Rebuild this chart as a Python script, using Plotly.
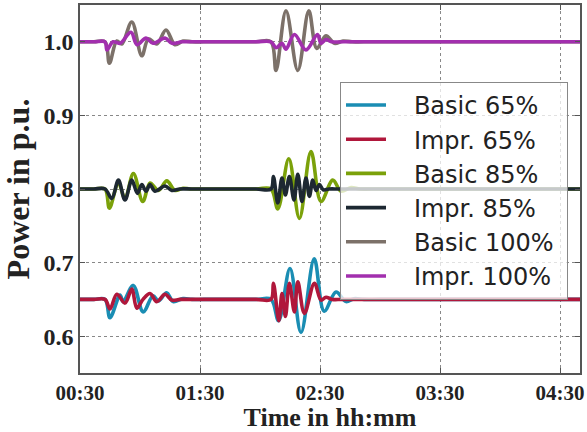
import plotly.graph_objects as go

# ---- data (time in minutes after 00:00, power in p.u.) ----
t_basic65 = [30, 37, 42.5, 45.0, 50.0, 51.6, 56.6, 61.6, 66.5, 69.2, 73.3, 76.6, 81.5, 86, 92,
             118, 125.5, 129.3, 135.0, 140.5, 147.1, 152.1, 158.0, 163.0, 167.0, 172.0, 180, 280]
v_basic65 = [0.65, 0.65, 0.65, 0.625, 0.656, 0.647, 0.669, 0.633, 0.655, 0.648, 0.659, 0.647, 0.651, 0.65, 0.65,
             0.65, 0.65, 0.621, 0.692, 0.605, 0.705, 0.634, 0.660, 0.647, 0.651, 0.65, 0.65, 0.65]

t_impr65 = [30, 37, 42.5, 45.0, 48.4, 52.5, 55.9, 58.4, 61.5, 65.0, 68.4, 72.5, 75.9, 80.0, 86,
            118, 125.5, 126.7, 129.4, 131.0, 132.7, 134.7, 137.2, 138.9, 142.2, 147.2, 150.5, 153.0,
            156.0, 162, 280]
v_impr65 = [0.65, 0.65, 0.65, 0.637, 0.657, 0.645, 0.664, 0.638, 0.650, 0.658, 0.647, 0.657, 0.649, 0.65, 0.65,
            0.65, 0.65, 0.672, 0.621, 0.658, 0.627, 0.672, 0.633, 0.674, 0.631, 0.672, 0.649, 0.653,
            0.65, 0.65, 0.65]

t_basic85 = [30, 37, 42.5, 44.7, 49.2, 52.5, 56.7, 61.4, 65.0, 69.2, 73.4, 77.5, 81.5, 85.0, 91,
             118, 125.5, 128.9, 134.4, 139.7, 145.5, 150.5, 156.4, 160.5, 165.5, 170.0, 176, 280]
v_basic85 = [0.8, 0.8, 0.8, 0.774, 0.808, 0.787, 0.821, 0.783, 0.808, 0.798, 0.811, 0.798, 0.801, 0.8, 0.8,
             0.8, 0.8, 0.773, 0.841, 0.760, 0.851, 0.783, 0.812, 0.797, 0.802, 0.8, 0.8, 0.8]

t_impr85 = [30, 37, 42.5, 45.9, 49.2, 52.5, 55.9, 58.7, 60.9, 63.0, 65.0, 67.5, 72.5, 75.9, 80.0, 86,
            118, 125.5, 126.7, 128.9, 131.0, 132.7, 134.7, 137.0, 138.9, 141.0, 143.0, 144.7, 146.4,
            148.0, 149.7, 151.6, 154.5, 160, 280]
v_impr85 = [0.8, 0.8, 0.8, 0.787, 0.812, 0.785, 0.812, 0.794, 0.806, 0.797, 0.806, 0.797, 0.804, 0.798, 0.8, 0.8,
            0.8, 0.8, 0.817, 0.781, 0.815, 0.792, 0.817, 0.785, 0.820, 0.783, 0.815, 0.790, 0.812,
            0.798, 0.806, 0.799, 0.8, 0.8, 0.8]

t_basic100 = [30, 37, 42.5, 44.7, 48.4, 50.9, 55.9, 60.9, 64.2, 68.4, 73.0, 77.5, 81.5, 86.0, 92,
              118, 125.5, 128.0, 133.0, 138.9, 144.4, 148.4, 153.0, 157.2, 161.5, 166.0, 172, 280]
v_basic100 = [1.0, 1.0, 1.0, 0.971, 1.001, 0.997, 1.027, 0.981, 1.004, 0.997, 1.016, 0.996, 1.001, 1.0, 1.0,
              1.0, 1.0, 0.961, 1.042, 0.961, 1.042, 0.991, 1.008, 0.998, 1.001, 1.0, 1.0, 1.0]

t_impr100 = [30, 37, 42.5, 43.5, 46.5, 50.0, 55.5, 58.5, 63.0, 66.5, 72.5, 76.0, 81.0, 87,
             118, 125.5, 128.0, 131.0, 133.0, 137.2, 143.0, 148.7, 150.5, 153.0, 156.0, 162, 280]
v_impr100 = [1.0, 1.0, 1.0, 0.989, 1.0, 0.998, 1.013, 0.996, 1.005, 0.998, 1.005, 0.998, 1.0, 1.0,
             1.0, 1.0, 0.992, 0.998, 0.990, 1.010, 0.989, 1.010, 0.998, 1.003, 1.0, 1.0, 1.0]

tick_vals = [30, 90, 150, 210, 270]
tick_text = ["00:30", "01:30", "02:30", "03:30", "04:30"]
y_tick_vals = [0.6, 0.7, 0.8, 0.9, 1.0]
y_tick_text = ["0.6", "0.7", "0.8", "0.9", "1.0"]

series = [
    ("Basic 65%", t_basic65, v_basic65, "#1a8db3"),
    ("Impr. 65%", t_impr65, v_impr65, "#b0173b"),
    ("Basic 85%", t_basic85, v_basic85, "#7ba10a"),
    ("Impr. 85%", t_impr85, v_impr85, "#1d2832"),
    ("Basic 100%", t_basic100, v_basic100, "#7c7169"),
    ("Impr. 100%", t_impr100, v_impr100, "#a22fae"),
]

fig = go.Figure()
for name, t, v, c in series:
    fig.add_trace(go.Scatter(x=t, y=v, name="\u00a0\u00a0\u00a0" + name + "\u00a0", mode="lines",
                             line=dict(color=c, width=3.6, shape="spline", smoothing=1.0)))

axis_common = dict(showline=True, linecolor="#555555", linewidth=1.5, mirror="ticks",
                   ticks="inside", ticklen=5, tickcolor="#555555",
                   showgrid=True, gridcolor="#888888", griddash="dot", gridwidth=1,
                   zeroline=False, automargin=False)

fig.update_xaxes(range=[30, 280], tickvals=tick_vals, ticktext=tick_text,
                 tickfont=dict(family="Liberation Serif", size=21, color="#222222", weight="bold"),
                 title=dict(text="<b>Time in hh:mm</b>",
                            font=dict(family="Liberation Serif", size=26, color="#222222"),
                            standoff=7),
                 **axis_common)
fig.update_yaxes(range=[0.55, 1.05], tickvals=y_tick_vals, ticktext=y_tick_text,
                 tickfont=dict(family="Liberation Serif", size=24, color="#222222", weight="bold"),
                 title=dict(text="<b>Power in p.u.</b>",
                            font=dict(family="Liberation Serif", size=32, color="#222222"),
                            standoff=6),
                 **axis_common)

fig.update_layout(
    width=587, height=432,
    margin=dict(l=80, r=7, t=5, b=59),
    paper_bgcolor="white", plot_bgcolor="white",
    showlegend=True,
    legend=dict(x=0.52, y=0.791, xanchor="left", yanchor="top",
                bgcolor="rgba(255,255,255,0.75)", bordercolor="#888888", borderwidth=1,
                itemwidth=40,
                font=dict(family="DejaVu Sans", size=24, color="#222222")),
)

fig.write_html("out.html", config={"displayModeBar": False},
               post_script="document.body.style.margin='0';")
